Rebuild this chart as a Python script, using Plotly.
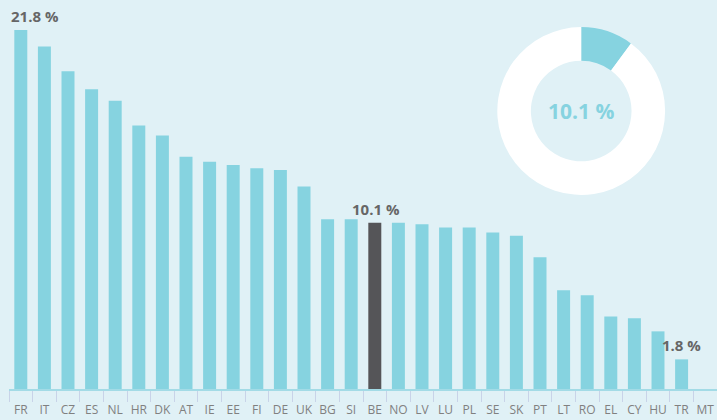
import plotly.graph_objects as go

countries = ["FR", "IT", "CZ", "ES", "NL", "HR", "DK", "AT", "IE", "EE",
             "FI", "DE", "UK", "BG", "SI", "BE", "NO", "LV", "LU", "PL",
             "SE", "SK", "PT", "LT", "RO", "EL", "CY", "HU", "TR", "MT"]
shares = [21.8, 20.8, 19.3, 18.2, 17.5, 16.0, 15.4, 14.1, 13.8, 13.6,
          13.4, 13.3, 12.3, 10.3, 10.3, 10.1, 10.1, 10.0, 9.8, 9.8,
          9.5, 9.3, 8.0, 6.0, 5.7, 4.4, 4.3, 3.5, 1.8, 0.0]
highlight = "BE"
donut_values = [10.1, 89.9]

BG = "#e0f1f6"
TEAL = "#86d3e0"
DARK = "#555558"
GREY = "#666666"

colors = [DARK if c == highlight else TEAL for c in countries]

fig = go.Figure()
fig.add_trace(go.Bar(
    x=countries,
    y=shares,
    marker=dict(color=colors, line=dict(width=0)),
    hoverinfo="x+y",
    showlegend=False,
))

fig.add_trace(go.Pie(
    values=donut_values,
    hole=0.6,
    sort=False,
    direction="clockwise",
    rotation=0,
    marker=dict(colors=[TEAL, "#ffffff"], line=dict(width=0)),
    textinfo="none",
    hoverinfo="skip",
    domain=dict(x=[0.6897, 0.9267], y=[0.4987, 0.9306]),
    showlegend=False,
))

label_font = dict(family="Open Sans, sans-serif", size=15, color=GREY)
fig.add_annotation(x="FR", y=shares[0], text="<b>21.8 %</b>", showarrow=False,
                   yshift=14, xanchor="left", xshift=-12, font=label_font)
fig.add_annotation(x=highlight, y=shares[countries.index(highlight)], text="<b>10.1 %</b>",
                   showarrow=False, yshift=14, xshift=1, font=label_font)
fig.add_annotation(x="TR", y=shares[countries.index("TR")], text="<b>1.8 %</b>",
                   showarrow=False, yshift=14, font=label_font)
fig.add_annotation(x=0.808, y=0.7147, xref="paper", yref="paper", text="<b>10.1 %</b>",
                   showarrow=False, xanchor="center", yanchor="middle",
                   font=dict(family="Open Sans, sans-serif", size=21, color=TEAL))

fig.update_layout(
    width=717,
    height=420,
    margin=dict(l=9, r=0, t=0, b=31, autoexpand=False),
    paper_bgcolor=BG,
    plot_bgcolor=BG,
    bargap=0.45,
)
fig.update_xaxes(
    type="category",
    range=[-0.5, 29.5],
    automargin=False,
    showline=True,
    linecolor="#a3dbe6",
    linewidth=2,
    ticks="outside",
    tickson="boundaries",
    ticklen=11,
    tickcolor="#c8d3e8",
    tickwidth=1,
    tickangle=0,
    ticklabelstandoff=9,
    tickfont=dict(family="Open Sans, sans-serif", size=12, color="#808080"),
    showgrid=False,
)
fig.update_yaxes(
    range=[0, 23.62],
    visible=False,
    showgrid=False,
    zeroline=False,
)

# the page body has a default 8px margin; drop it so the figure fills the window
fig.write_html("out.html",
               config={"displayModeBar": False},
               post_script="document.body.style.margin='0';document.body.style.overflow='hidden';")
